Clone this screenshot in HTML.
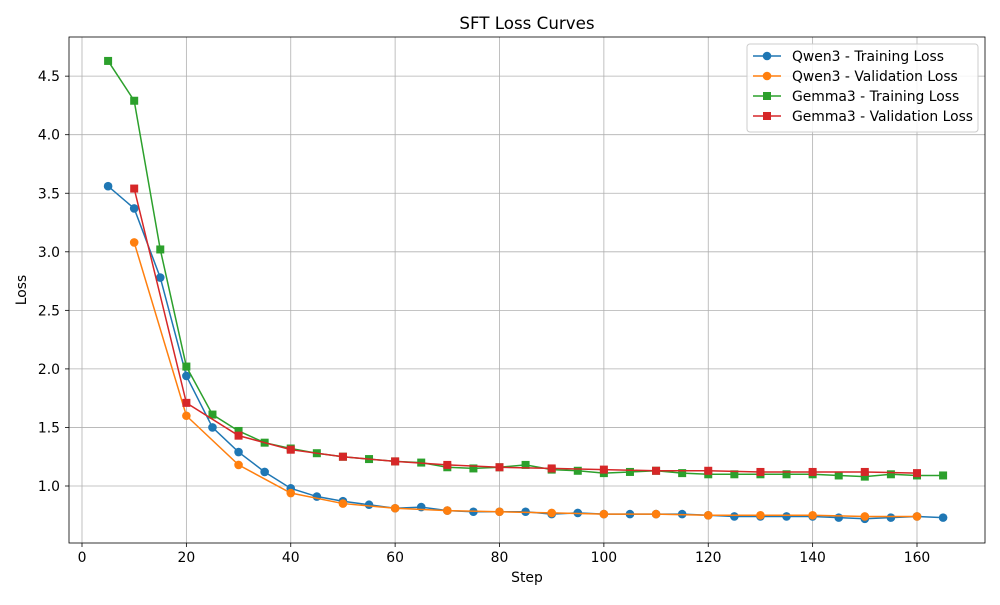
<!DOCTYPE html>
<html><head><meta charset="utf-8"><style>
body{margin:0;background:#fff;font-family:"Liberation Sans","DejaVu Sans",sans-serif;}
svg text{font-family:"DejaVu Sans","Liberation Sans",sans-serif;}
</style></head><body>
<svg id="c" width="1000" height="600"></svg>
<script>
const qwenTrainSteps=[5,10,15,20,25,30,35,40,45,50,55,60,65,70,75,80,85,90,95,100,105,110,115,120,125,130,135,140,145,150,155,160,165];
const qwenTrain=[3.56,3.37,2.78,1.94,1.50,1.29,1.12,0.98,0.91,0.87,0.84,0.81,0.82,0.79,0.78,0.78,0.78,0.76,0.77,0.76,0.76,0.76,0.76,0.75,0.74,0.74,0.74,0.74,0.73,0.72,0.73,0.74,0.73];
const valSteps=[10,20,30,40,50,60,70,80,90,100,110,120,130,140,150,160];
const qwenVal=[3.08,1.60,1.18,0.94,0.85,0.81,0.79,0.78,0.77,0.76,0.76,0.75,0.75,0.75,0.74,0.74];
const gemmaTrain=[4.63,4.29,3.02,2.02,1.61,1.47,1.37,1.32,1.28,1.25,1.23,1.21,1.20,1.16,1.15,1.16,1.18,1.14,1.13,1.11,1.12,1.13,1.11,1.10,1.10,1.10,1.10,1.10,1.09,1.08,1.10,1.09,1.09];
const gemmaVal=[3.54,1.71,1.43,1.31,1.25,1.21,1.18,1.16,1.15,1.14,1.13,1.13,1.12,1.12,1.12,1.11];
const xTicks=[0,20,40,60,80,100,120,140,160];
const yTicks=[1.0,1.5,2.0,2.5,3.0,3.5,4.0,4.5];
const L=69,R=985,T=37,B=543;
const xs=v=>82+(v)*(917-82)/160;
const ys=v=>486-(v-1)*117.1;
const svg=document.getElementById('c');
const NS='http://www.w3.org/2000/svg';
function mk(t,a,p){const e=document.createElementNS(NS,t);for(const k in a)e.setAttribute(k,a[k]);(p||svg).appendChild(e);return e;}
xTicks.forEach(t=>{const x=xs(t);
 const g=mk('line',{x1:x,x2:x,y1:T,y2:B,stroke:'#b0b0b0','stroke-width':0.8});
 
 mk('line',{x1:x,x2:x,y1:B,y2:B+4,stroke:'#000','stroke-width':0.8});
 const tx=mk('text',{x:x,y:B+19,'font-size':13.9,'text-anchor':'middle'});tx.textContent=t;
 
});
yTicks.forEach(t=>{const y=ys(t);
 const g=mk('line',{x1:L,x2:R,y1:y,y2:y,stroke:'#b0b0b0','stroke-width':0.8});
 
 mk('line',{x1:L-4,x2:L,y1:y,y2:y,stroke:'#000','stroke-width':0.8});
 const tx=mk('text',{x:L-9,y:y+5,'font-size':13.9,'text-anchor':'end'});tx.textContent=t.toFixed(1);
 
});
const fr=mk('rect',{x:L,y:T,width:R-L,height:B-T,fill:'none',stroke:'#000','stroke-width':0.8});

function series(steps,vals,color,shape,name){
 const g=mk('g',{});
 mk('polyline',{points:steps.map((s,i)=>xs(s)+','+ys(vals[i])).join(' '),fill:'none',stroke:color,'stroke-width':1.5},g);
 steps.forEach((s,i)=>{const x=xs(s),y=ys(vals[i]);
  if(shape==='o')mk('circle',{cx:x,cy:y,r:4.3,fill:color},g);
  else mk('rect',{x:x-4,y:y-4,width:8,height:8,fill:color},g);});
}
series(qwenTrainSteps,qwenTrain,'#1f77b4','o','qwen3-training-loss');
series(valSteps,qwenVal,'#ff7f0e','o','qwen3-validation-loss');
series(qwenTrainSteps,gemmaTrain,'#2ca02c','s','gemma3-training-loss');
series(valSteps,gemmaVal,'#d62728','s','gemma3-validation-loss');
let t=mk('text',{x:527,y:29,'font-size':16.7,'text-anchor':'middle'});t.textContent='SFT Loss Curves';
t=mk('text',{x:527,y:582,'font-size':13.9,'text-anchor':'middle'});t.textContent='Step';
t=mk('text',{x:26,y:290,'font-size':13.9,'text-anchor':'middle',transform:'rotate(-90 26 290)'});t.textContent='Loss';
const lg=mk('g',{});
mk('rect',{x:747,y:44,width:231,height:88,fill:'#fff','fill-opacity':0.85,stroke:'#ccc',rx:3},lg);
[['Qwen3 - Training Loss','#1f77b4','o'],['Qwen3 - Validation Loss','#ff7f0e','o'],['Gemma3 - Training Loss','#2ca02c','s'],['Gemma3 - Validation Loss','#d62728','s']].forEach((e,i)=>{
 const y=56+i*20;const g=mk('g',{},lg);
 
 mk('line',{x1:753,x2:781,y1:y,y2:y,stroke:e[1],'stroke-width':1.5},g);
 if(e[2]==='o')mk('circle',{cx:767,cy:y,r:4.3,fill:e[1]},g);else mk('rect',{x:763,y:y-4,width:8,height:8,fill:e[1]},g);
 const tx=mk('text',{x:792,y:y+5,'font-size':13.9},g);tx.textContent=e[0];
});
</script>
</body></html>
